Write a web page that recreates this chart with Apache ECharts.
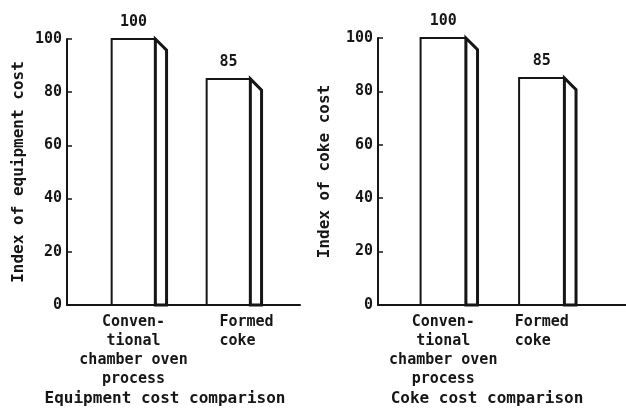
<!DOCTYPE html>
<html>
<head>
<meta charset="utf-8">
<script src="https://cdn.jsdelivr.net/npm/echarts@6/dist/echarts.min.js"></script>
<style>
    html, body { margin: 0; padding: 0; background: #fff; }
    #chart { width: 626px; height: 413px; }
</style>
</head>
<body>
<div id="chart"></div>
<script>
    // data
    var categories = ['Conven-\ntional\nchamber oven\nprocess', 'Formed\ncoke  '];
    var equipmentIndex = [100, 85];
    var cokeIndex = [100, 85];
    var panelTitles = ['Equipment cost comparison', 'Coke cost comparison'];
    var axisNames = ['Index of equipment cost', 'Index of coke cost'];

    var FONT = '"DejaVu Sans Mono", monospace';
    var INK = '#161616';

    // front face + slanted side face + value on top
    function renderBar(params, api) {
        var v = api.value(1);
        var top = api.coord([api.value(0), v]);
        var base = api.coord([api.value(0), 0]);
        var band = api.size([1, 0])[0];
        var w = band * 0.46;
        var side = band * 0.118;
        var x0 = top[0] - w / 2, x1 = top[0] + w / 2;
        return {
            type: 'group',
            children: [
                {
                    type: 'rect',
                    shape: { x: x0, y: top[1], width: w, height: base[1] - top[1] },
                    style: { fill: '#fff', stroke: INK, lineWidth: 2 }
                },
                {
                    type: 'polygon',
                    shape: { points: [[x1, top[1]], [x1 + side, top[1] + side], [x1 + side, base[1]], [x1, base[1]]] },
                    style: { fill: '#fff', stroke: INK, lineWidth: 3 }
                },
                {
                    type: 'text',
                    x: top[0],
                    y: top[1] - 17,
                    style: { text: String(v), align: 'center', verticalAlign: 'middle', font: 'bold 15px ' + FONT, fill: INK }
                }
            ]
        };
    }

    function toPoints(vals) {
        return categories.map(function (c, i) { return [i, vals[i]]; });
    }

    var chart = echarts.init(document.getElementById('chart'));

    // each panel: an outer grid for the axes, an inner grid for the bars
    var grids = [
        { left: 67, right: 326, top: 39, bottom: 108 },
        { left: 86, right: 350, top: 39, bottom: 108 },
        { left: 378, right: 0, top: 38, bottom: 108 },
        { left: 394, right: 35, top: 38, bottom: 108 }
    ];

    function outerX(gi) {
        return {
            type: 'value', gridIndex: gi, min: 0, max: 1,
            axisLine: { show: true, lineStyle: { color: INK, width: 2 } },
            axisTick: { show: false }, axisLabel: { show: false }, splitLine: { show: false }
        };
    }
    function innerX(gi, padLeft) {
        return {
            type: 'category', gridIndex: gi, data: categories,
            axisLine: { show: false }, axisTick: { show: false },
            axisLabel: {
                interval: 0, margin: 8,
                formatter: function (val, idx) {
                    return val.split('\n').map(function (s) { return '{t' + idx + '|' + s + '}'; }).join('\n');
                },
                rich: {
                    t0: { fontFamily: FONT, fontWeight: 'bold', fontSize: 15, color: INK, lineHeight: 19 },
                    t1: { fontFamily: FONT, fontWeight: 'bold', fontSize: 15, color: INK, lineHeight: 19, padding: [0, 0, 0, padLeft] }
                }
            }
        };
    }
    function outerY(gi, name, gap) {
        return {
            type: 'value', gridIndex: gi, min: 0, max: 100, interval: 20,
            name: name, nameLocation: 'middle', nameGap: gap,
            nameTextStyle: { fontFamily: FONT, fontWeight: 'bold', fontSize: 16, color: INK },
            axisLine: { show: true, lineStyle: { color: INK, width: 2 } },
            axisTick: { show: true, inside: true, length: 5, lineStyle: { color: INK, width: 1.5 } },
            axisLabel: { fontFamily: FONT, fontWeight: 'bold', fontSize: 15, color: INK, margin: 5 },
            splitLine: { show: false }
        };
    }
    function innerY(gi) {
        return { type: 'value', gridIndex: gi, min: 0, max: 100, show: false };
    }

    var option = {
        backgroundColor: '#fff',
        animation: false,
        grid: grids,
        xAxis: [outerX(0), innerX(1, 36), outerX(2), innerX(3, 0)],
        yAxis: [
            outerY(0, axisNames[0], 40), innerY(1),
            outerY(2, axisNames[1], 45), innerY(3)
        ],
        graphic: [
            { type: 'text', x: 165, y: 399, style: { text: panelTitles[0], align: 'center', verticalAlign: 'middle', font: 'bold 16px ' + FONT, fill: INK } },
            { type: 'text', x: 487, y: 399, style: { text: panelTitles[1], align: 'center', verticalAlign: 'middle', font: 'bold 16px ' + FONT, fill: INK } }
        ],
        series: [
            { type: 'custom', xAxisIndex: 1, yAxisIndex: 1, renderItem: renderBar, data: toPoints(equipmentIndex), encode: { x: 0, y: 1 } },
            { type: 'custom', xAxisIndex: 3, yAxisIndex: 3, renderItem: renderBar, data: toPoints(cokeIndex), encode: { x: 0, y: 1 } }
        ]
    };

    chart.setOption(option);
</script>
</body>
</html>
